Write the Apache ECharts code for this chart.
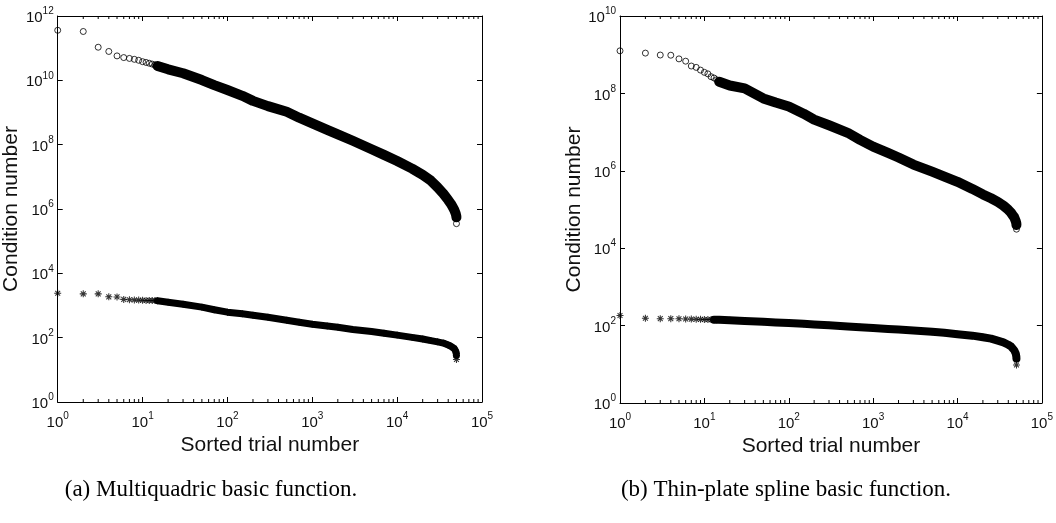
<!DOCTYPE html>
<html>
<head>
<meta charset="utf-8">
<script src="https://cdn.jsdelivr.net/npm/echarts@6/dist/echarts.min.js"></script>
<style>
  html, body { margin: 0; padding: 0; background: #fff; }
  #chart { width: 1056px; height: 523px; }
</style>
</head>
<body>
<div id="chart"></div>
<script>
// Sorted trial numbers at which the condition numbers are sampled
const sortedTrials = [
  1, 2, 3, 4, 5, 6, 7, 8, 9, 10, 11, 12, 13, 14, 15,
  20, 30, 50, 70, 100, 150, 200, 300, 500, 700,
  1000, 1500, 2000, 3000, 5000, 7000,
  10000, 15000, 20000, 25000, 30000, 35000, 40000, 43000, 45000, 47000, 48000, 49000, 49500, 49800, 49950, 50000
];

// (a) Multiquadric basis: circles (upper) and asterisks (lower)
const mqCircleCond = [
  3.6e11, 3.3e11, 1.07e11, 7.9e10, 5.75e10, 5.1e10, 4.8e10, 4.5e10, 4.2e10, 3.8e10, 3.6e10, 3.4e10, 3.2e10, 3.0e10, 2.8e10,
  2.2e10, 1.66e10, 1.02e10, 7.1e9, 5.0e9, 3.3e9, 2.3e9, 1.58e9, 1.05e9, 6.9e8,
  4.6e8, 2.9e8, 2.1e8, 1.32e8, 7.2e7, 4.8e7,
  3.1e7, 1.8e7, 1.15e7, 7.6e6, 4.7e6, 3.0e6, 1.9e6, 1.45e6, 1.17e6, 9.5e5, 8.3e5, 7.2e5, 6.6e5, 6.0e5, 5.5e5, 3.5e5
];
const mqStarCond = [
  2400, 2300, 2300, 1860, 1850, 1550, 1510, 1480, 1470, 1450, 1440, 1440, 1430, 1420, 1400,
  1260, 1100, 890, 740, 620, 550, 500, 430, 350, 300,
  260, 230, 210, 180, 155, 138,
  120, 102, 91, 81, 74, 68, 59, 54, 50, 46, 42, 38, 35, 32, 28, 21
];

// (b) Thin-plate spline basis: circles (upper) and asterisks (lower)
const tpsCircleCond = [
  1.26e9, 1.1e9, 9.8e8, 9.7e8, 7.8e8, 6.8e8, 5.1e8, 4.7e8, 4.0e8, 3.5e8, 3.2e8, 2.7e8, 2.5e8, 2.25e8, 2.0e8,
  1.6e8, 1.35e8, 7.4e7, 5.8e7, 4.6e7, 3.0e7, 2.1e7, 1.5e7, 9.6e6, 6.3e6,
  4.2e6, 2.9e6, 2.2e6, 1.45e6, 9.5e5, 7.1e5,
  5.2e5, 3.4e5, 2.45e5, 1.95e5, 1.58e5, 1.26e5, 9.8e4, 8.3e4, 7.2e4, 6.3e4, 5.6e4, 5.0e4, 4.7e4, 4.4e4, 4.0e4, 3.1e4
];
const tpsStarCond = [
  182, 155, 151, 151, 150, 148, 147, 146, 145, 144, 143, 143, 142, 142, 141,
  138, 132, 126, 121, 117, 111, 107, 102, 95, 91,
  87, 82, 79, 75, 69, 65,
  60, 55, 50, 46, 41, 37, 32, 29, 26, 23, 21, 19, 17.4, 15.8, 14, 9.6
];

// Tick positions
const trialTicks = [1, 10, 100, 1000, 10000, 100000];
const minorTrialTicks = [
  2, 3, 4, 5, 6, 7, 8, 9,
  20, 30, 40, 50, 60, 70, 80, 90,
  200, 300, 400, 500, 600, 700, 800, 900,
  2000, 3000, 4000, 5000, 6000, 7000, 8000, 9000,
  20000, 30000, 40000, 50000, 60000, 70000, 80000, 90000
];
const condTicksA = [1, 1e2, 1e4, 1e6, 1e8, 1e10, 1e12];
const condTicksB = [1, 1e2, 1e4, 1e6, 1e8, 1e10];

const xRange = [1, 1e5];
const yRangeA = [1, 1e12];
const yRangeB = [1, 1e10];

const captions = ['(a) Multiquadric basic function.', '(b) Thin-plate spline basic function.'];
const xTitle = 'Sorted trial number';
const yTitle = 'Condition number';

const SANS = '"Liberation Sans", Arial, sans-serif';
const SERIF = '"Liberation Serif", "DejaVu Serif", serif';
const INK = '#111';

// asterisk marker: vertical, horizontal and two diagonal bars
const ASTERISK = 'path://M8.5 0L11.5 0L11.5 20L8.5 20Z M0 8.5L20 8.5L20 11.5L0 11.5Z ' +
  'M2 4.1L4.1 2L18 15.9L15.9 18Z M15.9 2L18 4.1L4.1 18L2 15.9Z';

function powLabel(v) {
  const e = Math.round(Math.log10(v));
  return '{b|10}{s|' + e + '}';
}
const labelRich = {
  b: { fontSize: 15, fontFamily: SANS, color: INK, lineHeight: 19, verticalAlign: 'bottom' },
  s: { fontSize: 10, fontFamily: SANS, color: INK, lineHeight: 10, verticalAlign: 'top' }
};

function pairs(xs, ys, from, to) {
  const out = [];
  for (let i = from; i < to; i++) out.push([xs[i], ys[i]]);
  return out;
}

function makeAxes(gi, yRange, yTicks) {
  const line = { show: true, lineStyle: { color: '#000', width: 1 } };
  const tick = (vals) => ({ show: true, inside: true, length: 5, customValues: vals, lineStyle: { color: '#000' } });
  const xa = [
    {
      gridIndex: gi, type: 'log', logBase: 10, min: xRange[0], max: xRange[1], splitNumber: 5,
      position: 'bottom', axisLine: line, axisTick: tick(trialTicks),
      axisLabel: { formatter: powLabel, rich: labelRich, margin: 9, customValues: trialTicks },
      splitLine: { show: false },
      name: xTitle, nameLocation: 'middle', nameGap: 24,
      nameTextStyle: { fontSize: 21, fontFamily: SANS, color: INK }
    },
    {
      gridIndex: gi, type: 'log', logBase: 10, min: xRange[0], max: xRange[1], splitNumber: 5,
      position: 'top', axisLine: line, axisTick: tick(trialTicks),
      axisLabel: { show: false }, splitLine: { show: false }
    }
  ];
  const ya = [
    {
      gridIndex: gi, type: 'log', logBase: 10, min: yRange[0], max: yRange[1], interval: 2,
      position: 'left', axisLine: line, axisTick: tick(yTicks),
      axisLabel: { formatter: powLabel, rich: labelRich, margin: 4, customValues: yTicks },
      splitLine: { show: false },
      name: yTitle, nameLocation: 'middle', nameGap: 26,
      nameTextStyle: { fontSize: 21, fontFamily: SANS, color: INK }
    },
    {
      gridIndex: gi, type: 'log', logBase: 10, min: yRange[0], max: yRange[1], interval: 2,
      position: 'right', axisLine: line, axisTick: tick(yTicks),
      axisLabel: { show: false }, splitLine: { show: false }
    }
  ];
  return { xa, ya };
}

function minorTickSeries(xi, yi, yRange) {
  return {
    type: 'custom', xAxisIndex: xi, yAxisIndex: yi, silent: true, clip: false, z: 5,
    data: minorTrialTicks.map(v => [v, yRange[0]]),
    renderItem: function (params, api) {
      const v = api.value(0);
      const b = api.coord([v, yRange[0]]);
      const t = api.coord([v, yRange[1]]);
      const st = { stroke: '#000', lineWidth: 1 };
      return {
        type: 'group',
        children: [
          { type: 'line', shape: { x1: b[0], y1: b[1], x2: b[0], y2: b[1] - 3 }, style: st },
          { type: 'line', shape: { x1: t[0], y1: t[1], x2: t[0], y2: t[1] + 3 }, style: st }
        ]
      };
    }
  };
}

// dense run of overlapping markers, drawn as one thick stroke
function bandSeries(xi, yi, vals, from, width) {
  return {
    type: 'line', xAxisIndex: xi, yAxisIndex: yi, silent: true, z: 2,
    showSymbol: false, symbol: 'none', smooth: false,
    lineStyle: { color: '#000', width: width, cap: 'round', join: 'round' },
    data: pairs(sortedTrials, vals, from, vals.length - 1)
  };
}

function circleSeries(xi, yi, vals) {
  return {
    type: 'scatter', xAxisIndex: xi, yAxisIndex: yi, z: 3,
    symbol: 'circle', symbolSize: 6,
    itemStyle: { color: 'rgba(0,0,0,0)', borderColor: '#000', borderWidth: 1 },
    data: pairs(sortedTrials, vals, 0, vals.length)
  };
}

function starSeries(xi, yi, vals) {
  return {
    type: 'scatter', xAxisIndex: xi, yAxisIndex: yi, z: 3,
    symbol: ASTERISK, symbolSize: 7,
    itemStyle: { color: '#000' },
    data: pairs(sortedTrials, vals, 0, vals.length)
  };
}

const A = makeAxes(0, yRangeA, condTicksA);
const B = makeAxes(1, yRangeB, condTicksB);

const captionStyle = { font: '23px ' + SERIF, fill: '#000',
  textAlign: 'center', textVerticalAlign: 'middle', align: 'center', verticalAlign: 'middle' };

const option = {
  animation: false,
  backgroundColor: '#fff',
  grid: [
    { left: 54, top: 16, width: 428, height: 386 },
    { left: 620, top: 16, width: 427, height: 387 }
  ],
  xAxis: [].concat(A.xa, B.xa),
  yAxis: [].concat(A.ya, B.ya),
  series: [
    minorTickSeries(0, 0, yRangeA),
    minorTickSeries(2, 2, yRangeB),
    bandSeries(0, 0, mqCircleCond, 14, 10),
    bandSeries(0, 0, mqStarCond, 14, 7),
    bandSeries(2, 2, tpsCircleCond, 14, 10),
    bandSeries(2, 2, tpsStarCond, 12, 8),
    circleSeries(0, 0, mqCircleCond),
    starSeries(0, 0, mqStarCond),
    circleSeries(2, 2, tpsCircleCond),
    starSeries(2, 2, tpsStarCond)
  ],
  graphic: [
    { type: 'text', x: 211, y: 490, style: Object.assign({ text: captions[0] }, captionStyle) },
    { type: 'text', x: 786, y: 490, style: Object.assign({ text: captions[1] }, captionStyle) }
  ]
};

const chart = echarts.init(document.getElementById('chart'), null, { renderer: 'canvas' });
chart.setOption(option);
</script>
</body>
</html>
